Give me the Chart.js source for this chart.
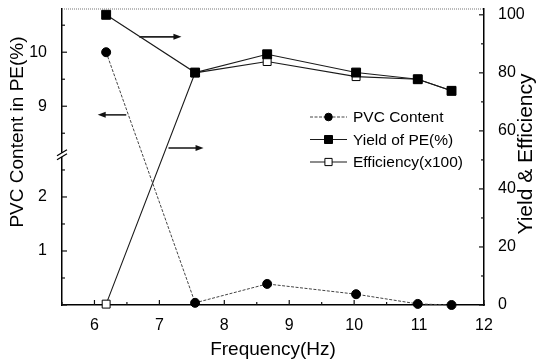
<!DOCTYPE html>
<html>
<head>
<meta charset="utf-8">
<script src="https://cdn.jsdelivr.net/npm/chart.js@4/dist/chart.umd.min.js"></script>
<style>
  html, body { margin: 0; padding: 0; background: #fff; }
</style>
</head>
<body>
<canvas id="c" width="543" height="364"></canvas>
<script>
// data
const frequency = [6.18, 7.55, 8.66, 10.03, 10.98, 11.5];
const pvcContent = [10.0, 0.04, 0.39, 0.20, 0.02, 0.0];
const yieldPE = [100, 80.1, 86.4, 80.1, 77.8, 73.8];
const efficiency = [0.3, 80.0, 83.9, 78.7, 77.8, 73.8];
const seriesNames = ["PVC Content", "Yield of PE(%)", "Efficiency(x100)"];

const xTicks = [5.5, 6, 6.5, 7, 7.5, 8, 8.5, 9, 9.5, 10, 10.5, 11, 11.5, 12];
const xLabels = [6, 7, 8, 9, 10, 11, 12];
const leftTicks = [0, 0.5, 1, 1.5, 2, 2.5, 8.5, 9, 9.5, 10, 10.5];
const leftLabels = [1, 2, 9, 10];
const rightTicks = [0, 10, 20, 30, 40, 50, 60, 70, 80, 90, 100];
const rightLabels = [0, 20, 40, 60, 80, 100];

// broken left axis: lower part and upper part
const lowerPart = [0, 2.78];
const upperPart = [8.1, 10.8];
const shift = upperPart[0] - lowerPart[1];

// arrows pointing each curve to its axis: [x from, x to, y, axis]
const arrows = [
  [6.69, 7.34, 92.4, "y2"],
  [6.49, 6.05, 8.84, "y"],
  [7.14, 7.68, 54.1, "y2"]
];

const FONT = '"Liberation Sans", Arial, sans-serif';

class BrokenLinearScale extends Chart.LinearScale {
  getPixelForValue(v) {
    return super.getPixelForValue(v > lowerPart[1] ? v - shift : v);
  }
  getValueForPixel(p) {
    const d = super.getValueForPixel(p);
    return d > lowerPart[1] ? d + shift : d;
  }
}
BrokenLinearScale.id = "brokenLinear";
BrokenLinearScale.defaults = Chart.LinearScale.defaults;
Chart.register(BrokenLinearScale);

const pts = ys => frequency.map((f, i) => ({ x: f, y: ys[i] }));

const styles = [
  { color: "#444", width: 1, dash: [3, 1.5], shape: "circle", radius: 4.5, fill: "#000" },
  { color: "#1a1a1a", width: 1.1, dash: [], shape: "rect", radius: 6.3, fill: "#000" },
  { color: "#1a1a1a", width: 1.1, dash: [], shape: "rect", radius: 5.6, fill: "#fff" }
];

function mkSet(name, ys, st, axis) {
  return {
    label: name,
    data: pts(ys),
    yAxisID: axis,
    borderColor: st.color,
    borderWidth: st.width,
    borderDash: st.dash,
    pointStyle: st.shape,
    pointRadius: st.radius,
    pointHoverRadius: st.radius,
    pointBackgroundColor: st.fill,
    pointBorderColor: "#000",
    pointBorderWidth: 1,
    tension: 0,
    fill: false,
    clip: false
  };
}

function line(ctx, x1, y1, x2, y2) {
  ctx.beginPath(); ctx.moveTo(x1, y1); ctx.lineTo(x2, y2); ctx.stroke();
}

const decor = {
  id: "decor",
  beforeDatasetsDraw(chart) {
    const { ctx, chartArea: a, scales } = chart;
    ctx.save();
    ctx.strokeStyle = "#111";
    ctx.lineWidth = 1.2;
    xTicks.forEach(v => {
      const px = scales.x.getPixelForValue(v);
      line(ctx, px, a.bottom, px, a.bottom - (Number.isInteger(v) ? 5 : 3));
    });
    leftTicks.forEach(v => {
      const py = scales.y.getPixelForValue(v);
      line(ctx, a.left, py, a.left + (Number.isInteger(v) ? 5 : 3), py);
    });
    rightTicks.forEach(v => {
      const py = scales.y2.getPixelForValue(v);
      line(ctx, a.right, py, a.right - (v % 20 === 0 ? 5 : 3), py);
    });
    // dotted top frame
    ctx.strokeStyle = "#777";
    ctx.lineWidth = 1;
    ctx.setLineDash([1, 1]);
    line(ctx, a.left, a.top, a.right, a.top);
    ctx.setLineDash([]);
    // axis break
    const yb = scales.y.getPixelForValue(lowerPart[1]);
    ctx.fillStyle = "#fff";
    ctx.fillRect(a.left - 2, yb - 2, 4, 4);
    ctx.strokeStyle = "#000";
    ctx.lineWidth = 1.2;
    line(ctx, a.left - 5, yb + 1, a.left + 5, yb - 5);
    line(ctx, a.left - 5, yb + 5, a.left + 5, yb - 1);
    ctx.restore();
  },
  afterDatasetsDraw(chart) {
    const { ctx, chartArea: a, scales } = chart;
    ctx.save();
    // arrows
    arrows.forEach(([x1, x2, yv, axis]) => {
      const p1 = scales.x.getPixelForValue(x1);
      const p2 = scales.x.getPixelForValue(x2);
      const py = scales[axis].getPixelForValue(yv);
      const dir = Math.sign(p2 - p1);
      ctx.strokeStyle = "#222";
      ctx.lineWidth = 1.6;
      line(ctx, p1, py, p2 - dir * 4, py);
      ctx.fillStyle = "#111";
      ctx.beginPath();
      ctx.moveTo(p2, py);
      ctx.lineTo(p2 - dir * 8, py - 3);
      ctx.lineTo(p2 - dir * 8, py + 3);
      ctx.closePath();
      ctx.fill();
    });
    // legend
    const lx = a.left + 248, ly = a.top + 108;
    ctx.font = "15.5px " + FONT;
    ctx.textBaseline = "middle";
    ctx.textAlign = "left";
    seriesNames.forEach((name, i) => {
      const st = styles[i];
      const y = ly + i * 22.5;
      ctx.strokeStyle = st.color;
      ctx.lineWidth = st.width;
      ctx.setLineDash(st.dash);
      line(ctx, lx, y, lx + 37, y);
      ctx.setLineDash([]);
      ctx.fillStyle = st.fill;
      ctx.strokeStyle = "#000";
      ctx.lineWidth = 1;
      const cx = lx + 18.5;
      ctx.beginPath();
      if (st.shape === "circle") {
        ctx.arc(cx, y, 3.8, 0, Math.PI * 2);
      } else {
        const h = st.fill === "#000" ? 4 : 3.6;
        ctx.rect(cx - h, y - h, 2 * h, 2 * h);
      }
      ctx.fill();
      ctx.stroke();
      ctx.fillStyle = "#000";
      ctx.fillText(name, lx + 43, y + 1);
    });
    ctx.restore();
  },
  afterDraw(chart) {
    const { ctx, chartArea: a } = chart;
    ctx.save();
    ctx.fillStyle = "#000";
    ctx.textAlign = "center";
    ctx.textBaseline = "middle";
    ctx.font = "19px " + FONT;
    ctx.fillText("Frequency(Hz)", (a.left + a.right) / 2, 350);
    ctx.translate(18, 132);
    ctx.rotate(-Math.PI / 2);
    ctx.fillText("PVC Content in PE(%)", 0, 0);
    ctx.restore();
    ctx.save();
    ctx.fillStyle = "#000";
    ctx.textAlign = "center";
    ctx.textBaseline = "middle";
    ctx.font = "21px " + FONT;
    ctx.translate(526, 154);
    ctx.rotate(-Math.PI / 2);
    ctx.fillText("Yield & Efficiency", 0, 0);
    ctx.restore();
  }
};

const tickFont = { family: FONT, size: 16 };

new Chart(document.getElementById("c"), {
  type: "line",
  data: {
    datasets: [
      mkSet(seriesNames[0], pvcContent, styles[0], "y"),
      mkSet(seriesNames[1], yieldPE, styles[1], "y2"),
      mkSet(seriesNames[2], efficiency, styles[2], "y2")
    ]
  },
  options: {
    responsive: false,
    animation: false,
    devicePixelRatio: 1,
    layout: { padding: { top: 9, left: 0, right: 0, bottom: 0 } },
    plugins: { legend: { display: false }, tooltip: { enabled: false } },
    scales: {
      x: {
        type: "linear",
        min: 5.5, max: 12, bounds: "data",
        grid: { display: false },
        border: { display: true, color: "#000", width: 1.5 },
        afterBuildTicks: s => { s.ticks = xTicks.map(v => ({ value: v })); },
        afterFit: s => { s.height = 59; s.paddingLeft = 0; s.paddingRight = 0; },
        ticks: {
          autoSkip: false, maxRotation: 0, padding: 3, color: "#000", font: tickFont,
          callback: v => xLabels.includes(v) ? String(v) : ""
        }
      },
      y: {
        type: "brokenLinear",
        position: "left",
        min: 0, max: lowerPart[1] + (upperPart[1] - upperPart[0]), bounds: "data",
        grid: { display: false },
        border: { display: true, color: "#000", width: 1.5 },
        afterBuildTicks: s => { s.ticks = leftTicks.map(v => ({ value: v })); },
        afterFit: s => { s.width = 62; s.paddingTop = 0; s.paddingBottom = 0; },
        ticks: {
          autoSkip: false, padding: 7, color: "#000", font: tickFont,
          callback: v => leftLabels.includes(v) ? String(v) : ""
        }
      },
      y2: {
        type: "linear",
        position: "right",
        min: 0, max: 102, bounds: "data",
        grid: { display: false },
        border: { display: true, color: "#000", width: 1.5 },
        afterBuildTicks: s => { s.ticks = rightTicks.map(v => ({ value: v })); },
        afterFit: s => { s.width = 59; s.paddingTop = 0; s.paddingBottom = 0; },
        ticks: {
          autoSkip: false, padding: 6, color: "#000", font: tickFont,
          callback: v => rightLabels.includes(v) ? String(v) : ""
        }
      }
    }
  },
  plugins: [decor]
});
</script>
</body>
</html>
